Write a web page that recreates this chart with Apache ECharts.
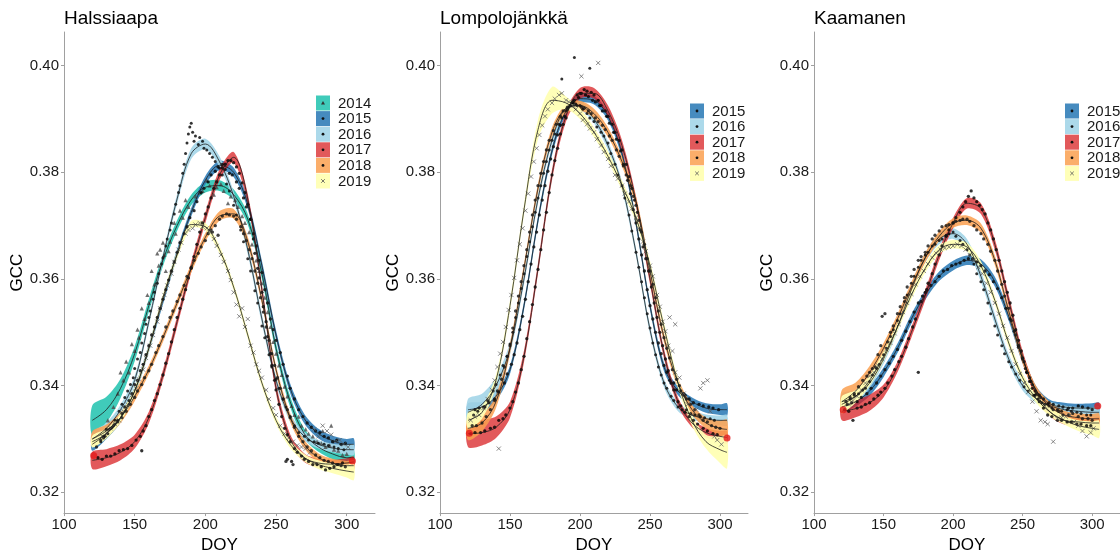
<!DOCTYPE html>
<html>
<head>
<meta charset="utf-8">
<script src="https://cdn.jsdelivr.net/npm/echarts@6/dist/echarts.min.js"></script>
<style>
html,body{margin:0;padding:0;background:#fff;}
#chart{width:1120px;height:559px;}
</style>
</head>
<body>
<div id="chart"></div>
<script>
// ---------------- DATA ----------------
const doyGrid = [120,130,140,150,160,170,180,190,200,210,220,230,240,250,260,270,280,290,300,305];
const xTicks = [100,150,200,250,300];
const yTicks = [0.32,0.34,0.36,0.38,0.40];
const siteNames = ['Halssiaapa','Lompolojänkkä','Kaamanen'];
const yearsH = ['2014','2015','2016','2017','2018','2019'];
const yearsL = ['2015','2016','2017','2018','2019'];
const yearsK = ['2015','2016','2017','2018','2019'];

// Halssiaapa fitted curves (GCC at doyGrid)
const H14c = [0.3335,0.3355,0.3395,0.3460,0.3550,0.3635,0.3700,0.3748,0.3772,0.3775,0.3758,0.3712,0.3610,0.3470,0.3370,0.3310,0.3285,0.3272,0.3265,0.3265];
const H15c = [0.3290,0.3310,0.3340,0.3390,0.3470,0.3560,0.3648,0.3725,0.3785,0.3813,0.3800,0.3740,0.3625,0.3495,0.3395,0.3338,0.3310,0.3297,0.3290,0.3290];
const H16c = [0.3300,0.3320,0.3355,0.3410,0.3520,0.3640,0.3750,0.3835,0.3853,0.3820,0.3755,0.3655,0.3525,0.3410,0.3340,0.3305,0.3290,0.3283,0.3280,0.3280];
const H17c = [0.3260,0.3265,0.3275,0.3295,0.3340,0.3420,0.3520,0.3622,0.3715,0.3795,0.3828,0.3750,0.3580,0.3395,0.3300,0.3265,0.3255,0.3253,0.3255,0.3257];
const H18c = [0.3300,0.3315,0.3340,0.3380,0.3430,0.3490,0.3555,0.3620,0.3678,0.3718,0.3722,0.3670,0.3560,0.3430,0.3340,0.3290,0.3265,0.3255,0.3250,0.3250];
const H19c = [0.3295,0.3310,0.3340,0.3390,0.3470,0.3565,0.3645,0.3702,0.3698,0.3655,0.3585,0.3495,0.3405,0.3335,0.3290,0.3265,0.3252,0.3245,0.3240,0.3238];
// Halssiaapa band half widths
const H14w = [0.0028,0.0024,0.0018,0.0014,0.0012,0.0011,0.0010,0.0010,0.0010,0.0010,0.0010,0.0010,0.0010,0.0010,0.0010,0.0009,0.0009,0.0010,0.0012,0.0014];
const H15w = [0.0012,0.0010,0.0009,0.0008,0.0008,0.0008,0.0008,0.0008,0.0008,0.0009,0.0009,0.0009,0.0009,0.0009,0.0009,0.0009,0.0009,0.0009,0.0010,0.0011];
const H16w = [0.0012,0.0010,0.0009,0.0008,0.0008,0.0008,0.0009,0.0010,0.0010,0.0010,0.0009,0.0009,0.0009,0.0008,0.0008,0.0008,0.0008,0.0008,0.0009,0.0010];
const H17w = [0.0016,0.0016,0.0015,0.0013,0.0011,0.0010,0.0010,0.0010,0.0010,0.0010,0.0010,0.0010,0.0010,0.0010,0.0009,0.0008,0.0008,0.0008,0.0009,0.0010];
const H18w = [0.0014,0.0012,0.0010,0.0009,0.0008,0.0008,0.0008,0.0008,0.0008,0.0009,0.0009,0.0009,0.0008,0.0008,0.0008,0.0008,0.0008,0.0008,0.0009,0.0010];
const H19w = [0.0011,0.0009,0.0008,0.0007,0.0007,0.0007,0.0007,0.0007,0.0007,0.0007,0.0007,0.0007,0.0007,0.0007,0.0007,0.0007,0.0008,0.0009,0.0012,0.0015];
// Halssiaapa observations
const H14p = [[131,0.3335],[135,0.336],[138,0.3385],[142,0.341],[146,0.3425],[150,0.3465],[153,0.349],[157,0.3525],[160,0.3555],[164,0.359],[167,0.3625],[171,0.3645],[175,0.367],[179,0.3685],[184,0.3715],[188,0.3735],[193,0.3755],[198,0.3765],[203,0.3775],[208,0.3772],[213,0.3765],[218,0.3755],[223,0.3735],[228,0.3705],[233,0.3665],[238,0.3615],[242,0.3565],[246,0.351],[250,0.346],[254,0.342],[258,0.338],[263,0.3345],[268,0.3325],[273,0.331],[279,0.3295],[285,0.3285],[291,0.328],[297,0.327],[168,0.3655],[172,0.3615],[283,0.3315],[289,0.3325]];
const H14q = [[140,0.3425],[144,0.3445],[148,0.3478],[152,0.3505],[155,0.3545],[159,0.357],[162,0.3615],[166,0.3648],[170,0.3668],[174,0.3652],[178,0.3705],[182,0.3728],[186,0.3748],[196,0.3762],[201,0.3785],[206,0.3758],[211,0.3778],[216,0.3742],[221,0.3748],[226,0.3718],[231,0.3688],[236,0.3635],[240,0.3592],[244,0.3538],[248,0.3482],[252,0.3438],[256,0.3398],[261,0.3362],[266,0.3342],[271,0.3318],[276,0.3305],[282,0.3292],[288,0.3288],[294,0.3278],[300,0.3272]];
const H15p = [[128,0.3305],[133,0.332],[138,0.3335],[143,0.336],[148,0.3385],[152,0.341],[156,0.344],[160,0.3475],[164,0.351],[168,0.3545],[172,0.358],[176,0.3615],[180,0.365],[185,0.3685],[189,0.3715],[194,0.3745],[199,0.377],[204,0.3795],[209,0.381],[214,0.3805],[219,0.3795],[224,0.377],[229,0.3735],[234,0.3685],[238,0.3635],[242,0.358],[246,0.3525],[250,0.3485],[255,0.344],[260,0.3395],[266,0.3355],[272,0.333],[278,0.3315],[284,0.3305],[290,0.3295],[296,0.329]];
const H15q = [[130,0.3318],[136,0.3328],[141,0.3348],[146,0.3372],[150,0.3402],[154,0.3428],[158,0.3458],[162,0.3495],[166,0.3528],[170,0.3562],[174,0.3598],[178,0.3632],[182,0.3668],[187,0.3698],[192,0.3728],[197,0.3762],[202,0.3782],[207,0.3802],[212,0.3815],[217,0.3798],[222,0.3782],[227,0.3752],[232,0.3712],[236,0.3662],[240,0.3612],[244,0.3555],[248,0.3505],[253,0.3462],[258,0.3418],[263,0.3375],[269,0.3342],[275,0.3322],[281,0.3312],[287,0.3302],[293,0.3298],[299,0.3292]];
const H16p = [[126,0.3295],[131,0.331],[136,0.3335],[141,0.3365],[145,0.339],[149,0.3415],[152,0.345],[155,0.348],[158,0.3515],[161,0.354],[164,0.3575],[167,0.361],[170,0.364],[173,0.3675],[176,0.3705],[179,0.374],[182,0.3775],[185,0.3815],[187,0.3855],[189,0.3885],[191,0.3875],[193,0.3868],[196,0.3865],[199,0.3845],[203,0.3835],[207,0.382],[212,0.3795],[217,0.3765],[222,0.372],[227,0.367],[232,0.3615],[237,0.3555],[242,0.349],[247,0.3435],[252,0.3395],[257,0.336],[263,0.3325],[270,0.3305],[277,0.3295],[284,0.329],[291,0.3285],[298,0.328]];
const H16q = [[128,0.3302],[134,0.3322],[139,0.3352],[143,0.3378],[147,0.3402],[150,0.3432],[154,0.3462],[157,0.3498],[160,0.3528],[163,0.3562],[166,0.3592],[169,0.3628],[172,0.3662],[175,0.3692],[178,0.3722],[181,0.3762],[184,0.3798],[186,0.3835],[188,0.3872],[190,0.3892],[192,0.3858],[195,0.3852],[198,0.3858],[201,0.3842],[205,0.3828],[210,0.3808],[215,0.3778],[220,0.3738],[225,0.3692],[230,0.3638],[235,0.3578],[240,0.3512],[245,0.3458],[250,0.3412],[255,0.3375],[260,0.3342],[266,0.3312],[273,0.3298],[280,0.3292],[287,0.3288],[294,0.3282]];
const H17p = [[124,0.3265],[130,0.3268],[136,0.3272],[142,0.328],[148,0.3288],[154,0.3305],[158,0.3325],[162,0.3355],[166,0.3385],[170,0.342],[174,0.346],[178,0.3505],[182,0.3545],[186,0.358],[190,0.362],[194,0.3665],[198,0.3705],[202,0.3735],[206,0.377],[210,0.3795],[214,0.3815],[218,0.3822],[222,0.381],[226,0.378],[230,0.374],[234,0.3675],[237,0.362],[240,0.3575],[243,0.352],[246,0.346],[249,0.341],[252,0.3365],[256,0.332],[260,0.3295],[265,0.3275],[270,0.3262],[276,0.3252],[282,0.3248],[288,0.3245],[294,0.3252],[258,0.3262],[261,0.3258],[155,0.3278]];
const H17q = [[127,0.3262],[133,0.3268],[139,0.3278],[145,0.3282],[151,0.3298],[156,0.3315],[160,0.3342],[164,0.3372],[168,0.3402],[172,0.3442],[176,0.3482],[180,0.3528],[184,0.3562],[188,0.3602],[192,0.3642],[196,0.3688],[200,0.3722],[204,0.3752],[208,0.3782],[212,0.3808],[216,0.3822],[220,0.3818],[224,0.3798],[228,0.3762],[232,0.3712],[235,0.3648],[238,0.3602],[241,0.3548],[244,0.3492],[247,0.3438],[250,0.3392],[254,0.3342],[258,0.3308],[263,0.3282],[268,0.3268],[273,0.3258],[279,0.3252],[285,0.3242],[291,0.3248],[297,0.3255]];
const H18p = [[123,0.3285],[129,0.3305],[135,0.3325],[141,0.334],[147,0.3365],[152,0.339],[157,0.3415],[162,0.344],[167,0.3475],[172,0.351],[177,0.354],[182,0.357],[187,0.3605],[192,0.3635],[197,0.366],[202,0.3685],[207,0.37],[212,0.3718],[217,0.372],[222,0.3712],[227,0.3685],[231,0.3655],[235,0.3615],[239,0.3565],[243,0.351],[247,0.346],[251,0.3415],[255,0.3375],[260,0.334],[266,0.3305],[272,0.3285],[278,0.327],[284,0.326],[290,0.3255],[296,0.325],[257,0.3258],[262,0.3252],[205,0.3688],[209,0.3682]];
const H18q = [[126,0.3298],[132,0.3318],[138,0.3332],[144,0.3352],[150,0.3378],[155,0.3402],[160,0.3428],[165,0.3462],[170,0.3492],[175,0.3528],[180,0.3558],[185,0.3588],[190,0.3622],[195,0.3648],[200,0.3672],[204,0.3692],[210,0.3712],[215,0.3722],[220,0.3718],[225,0.3698],[229,0.3672],[233,0.3638],[237,0.3592],[241,0.3538],[245,0.3485],[249,0.3438],[253,0.3395],[258,0.3355],[263,0.3322],[269,0.3295],[275,0.3278],[281,0.3265],[287,0.3258],[293,0.3252],[299,0.3248]];
const H19p = [[127,0.3305],[133,0.332],[139,0.3335],[145,0.3365],[151,0.3395],[156,0.343],[161,0.3475],[166,0.352],[171,0.357],[176,0.361],[181,0.3655],[186,0.3685],[191,0.3695],[196,0.3705],[201,0.3695],[206,0.3675],[211,0.3645],[216,0.3615],[220,0.3575],[224,0.353],[228,0.351],[232,0.3475],[236,0.344],[240,0.3415],[245,0.3375],[250,0.3345],[256,0.331],[262,0.3295],[268,0.3285],[274,0.3275],[280,0.3305],[286,0.3315],[292,0.3295],[298,0.329],[226,0.3545],[230,0.3525]];
const H19q = [[130,0.3312],[136,0.3328],[142,0.3352],[148,0.3382],[153,0.3412],[158,0.3452],[163,0.3495],[168,0.3545],[173,0.3588],[178,0.3632],[183,0.3668],[188,0.3692],[193,0.3702],[198,0.3698],[203,0.3688],[208,0.3662],[213,0.3632],[218,0.3598],[222,0.3552],[234,0.3462],[238,0.3428],[243,0.3392],[248,0.3358],[253,0.3325],[259,0.3302],[265,0.3288],[271,0.3282],[277,0.3318],[283,0.3325],[289,0.3308],[295,0.3298],[301,0.3285]];
const HendPts = [[121,0.3269],[304,0.3259]];

// Lompolojänkkä
const L15c = [0.3355,0.3360,0.3380,0.3430,0.3550,0.3710,0.3840,0.3915,0.3938,0.3935,0.3905,0.3835,0.3705,0.3550,0.3435,0.3390,0.3370,0.3358,0.3355,0.3355];
const L16c = [0.3350,0.3365,0.3400,0.3470,0.3600,0.3750,0.3860,0.3920,0.3925,0.3900,0.3850,0.3775,0.3650,0.3505,0.3405,0.3360,0.3345,0.3338,0.3335,0.3335];
const L17c = [0.3310,0.3312,0.3322,0.3355,0.3455,0.3620,0.3795,0.3905,0.3948,0.3948,0.3915,0.3850,0.3745,0.3600,0.3460,0.3370,0.3330,0.3312,0.3305,0.3303];
const L18c = [0.3320,0.3330,0.3370,0.3470,0.3620,0.3770,0.3875,0.3920,0.3925,0.3910,0.3875,0.3820,0.3745,0.3615,0.3490,0.3405,0.3355,0.3330,0.3320,0.3318];
const L19c = [0.3335,0.3350,0.3410,0.3550,0.3730,0.3880,0.3935,0.3930,0.3910,0.3875,0.3830,0.3775,0.3715,0.3625,0.3510,0.3405,0.3335,0.3295,0.3280,0.3275];
const L15w = [0.0012,0.0010,0.0009,0.0008,0.0008,0.0008,0.0008,0.0008,0.0008,0.0008,0.0008,0.0008,0.0008,0.0008,0.0008,0.0008,0.0008,0.0009,0.0010,0.0012];
const L16w = [0.0025,0.0020,0.0016,0.0012,0.0010,0.0009,0.0008,0.0008,0.0008,0.0008,0.0008,0.0008,0.0008,0.0008,0.0008,0.0008,0.0008,0.0008,0.0009,0.0010];
const L17w = [0.0025,0.0024,0.0020,0.0015,0.0011,0.0010,0.0010,0.0010,0.0010,0.0010,0.0010,0.0010,0.0010,0.0010,0.0009,0.0008,0.0008,0.0009,0.0010,0.0012];
const L18w = [0.0022,0.0016,0.0012,0.0010,0.0009,0.0009,0.0009,0.0009,0.0009,0.0009,0.0009,0.0009,0.0009,0.0009,0.0009,0.0009,0.0009,0.0010,0.0014,0.0018];
const L19w = [0.0015,0.0012,0.0010,0.0010,0.0010,0.0018,0.0025,0.0012,0.0010,0.0009,0.0009,0.0009,0.0009,0.0009,0.0009,0.0009,0.0010,0.0013,0.0025,0.0030];
const L15p = [[125,0.3355],[132,0.336],[139,0.3375],[146,0.3405],[151,0.344],[155,0.348],[159,0.353],[163,0.3595],[167,0.366],[171,0.372],[175,0.3775],[179,0.3825],[184,0.387],[189,0.3905],[194,0.393],[199,0.394],[204,0.3945],[209,0.3935],[214,0.3925],[219,0.3905],[224,0.3875],[229,0.384],[234,0.3785],[238,0.373],[242,0.3675],[246,0.3615],[250,0.355],[254,0.350],[258,0.346],[262,0.3425],[267,0.3405],[272,0.339],[278,0.3375],[285,0.3365],[292,0.336],[299,0.3355]];
const L15q = [[128,0.3358],[135,0.3368],[142,0.3388],[148,0.3422],[153,0.3458],[157,0.3505],[161,0.3562],[165,0.3628],[169,0.3688],[173,0.3748],[177,0.3802],[181,0.3848],[186,0.3888],[191,0.3918],[196,0.3935],[201,0.3948],[206,0.3942],[211,0.3932],[216,0.3915],[221,0.3892],[226,0.3862],[231,0.3815],[236,0.376],[240,0.3705],[244,0.3645],[248,0.358],[252,0.3525],[256,0.348],[260,0.3438],[264,0.341],[269,0.3392],[275,0.3382],[281,0.3368],[288,0.3362],[295,0.3358]];
const L16p = [[124,0.3345],[131,0.336],[138,0.339],[143,0.342],[148,0.3455],[152,0.35],[156,0.3555],[160,0.361],[164,0.367],[168,0.3725],[172,0.3775],[176,0.382],[180,0.386],[185,0.389],[190,0.3915],[195,0.393],[200,0.3925],[205,0.391],[210,0.3895],[215,0.3875],[220,0.3855],[225,0.3815],[230,0.3775],[235,0.372],[240,0.365],[244,0.3595],[248,0.3535],[252,0.348],[256,0.3435],[260,0.3405],[265,0.338],[270,0.336],[276,0.3355],[282,0.3345],[289,0.334],[296,0.3335],[196,0.4015],[207,0.3995],[187,0.3975]];
const L16q = [[127,0.3352],[134,0.3372],[140,0.3402],[145,0.3438],[150,0.3478],[154,0.3528],[158,0.3582],[162,0.3642],[166,0.3698],[170,0.3752],[174,0.3798],[178,0.3842],[182,0.3872],[187,0.3902],[192,0.3922],[197,0.3928],[202,0.3918],[207,0.3902],[212,0.3885],[217,0.3868],[222,0.3835],[227,0.3795],[232,0.3752],[237,0.369],[242,0.3622],[246,0.3565],[250,0.3508],[254,0.3458],[258,0.342],[262,0.3395],[267,0.3372],[273,0.3355],[279,0.3348],[286,0.3342],[293,0.3338]];
const L17p = [[122,0.331],[129,0.3312],[136,0.332],[142,0.3335],[147,0.3345],[152,0.337],[156,0.3405],[160,0.3455],[164,0.352],[168,0.3585],[172,0.3655],[176,0.3725],[180,0.3795],[184,0.3845],[188,0.389],[193,0.3925],[198,0.3945],[203,0.3955],[208,0.395],[213,0.3935],[218,0.3915],[223,0.389],[228,0.386],[233,0.3815],[237,0.377],[241,0.3725],[245,0.366],[249,0.3615],[253,0.3555],[257,0.35],[261,0.345],[265,0.3405],[270,0.337],[275,0.335],[281,0.3335],[288,0.332],[295,0.331]];
const L17q = [[125,0.3312],[132,0.3315],[139,0.3322],[145,0.3338],[150,0.3358],[154,0.3388],[158,0.343],[162,0.3488],[166,0.3552],[170,0.3618],[174,0.3692],[178,0.3762],[182,0.3822],[186,0.3872],[190,0.3902],[195,0.3932],[200,0.3948],[205,0.3952],[210,0.3945],[215,0.3925],[220,0.3905],[225,0.3875],[230,0.3842],[235,0.3792],[239,0.3748],[243,0.3692],[247,0.3638],[251,0.3585],[255,0.3528],[259,0.3475],[263,0.3428],[267,0.3392],[272,0.3362],[278,0.3342],[284,0.3328],[291,0.3315],[298,0.3308]];
const L18p = [[123,0.3325],[130,0.333],[136,0.3355],[141,0.339],[146,0.3435],[150,0.3475],[154,0.354],[158,0.3595],[162,0.3655],[166,0.372],[170,0.3775],[174,0.382],[178,0.386],[183,0.389],[188,0.3915],[193,0.3925],[198,0.3925],[203,0.392],[208,0.391],[213,0.3895],[218,0.388],[223,0.386],[228,0.383],[233,0.3795],[238,0.3755],[242,0.371],[246,0.3665],[250,0.3615],[254,0.3565],[258,0.3515],[262,0.347],[266,0.343],[271,0.34],[276,0.3375],[282,0.3355],[288,0.3335],[294,0.3325],[300,0.332]];
const L18q = [[126,0.3325],[133,0.3342],[139,0.3372],[144,0.3412],[148,0.3455],[152,0.3508],[156,0.3568],[160,0.3625],[164,0.3688],[168,0.3748],[172,0.3798],[176,0.3842],[181,0.3878],[186,0.3905],[191,0.3922],[196,0.3928],[201,0.3922],[206,0.3915],[211,0.3902],[216,0.3888],[221,0.3868],[226,0.3842],[231,0.3812],[236,0.3775],[240,0.3738],[244,0.3688],[248,0.3638],[252,0.359],[256,0.354],[260,0.349],[264,0.3452],[269,0.3412],[274,0.3385],[279,0.3365],[285,0.3345],[291,0.3332],[297,0.3322]];
const L19p = [[122,0.3335],[128,0.3345],[134,0.3375],[139,0.341],[143,0.346],[147,0.351],[151,0.357],[155,0.3635],[159,0.3695],[163,0.376],[167,0.382],[171,0.387],[175,0.3905],[180,0.393],[185,0.3945],[190,0.3935],[195,0.3925],[200,0.391],[205,0.389],[210,0.3875],[215,0.385],[220,0.3825],[225,0.3795],[230,0.3775],[235,0.3745],[240,0.3715],[245,0.367],[250,0.3625],[255,0.357],[259,0.352],[263,0.3475],[268,0.3425],[274,0.3385],[280,0.3345],[286,0.3395],[291,0.341],[296,0.3305],[301,0.329],[213,0.4005],[201,0.398],[142,0.3282],[264,0.3528],[268,0.3515]];
const L19q = [[125,0.3342],[131,0.3358],[137,0.3392],[141,0.3435],[145,0.3482],[149,0.3542],[153,0.3602],[157,0.3665],[161,0.3728],[165,0.3792],[169,0.3845],[173,0.3888],[177,0.3918],[182,0.3938],[187,0.3948],[192,0.3932],[197,0.3918],[202,0.3898],[207,0.3882],[212,0.3862],[217,0.3838],[222,0.3812],[227,0.3788],[232,0.376],[237,0.3732],[242,0.3695],[247,0.3652],[252,0.3605],[257,0.3548],[261,0.3502],[266,0.3465],[271,0.3415],[277,0.3365],[283,0.3355],[288,0.3405],[293,0.3352],[298,0.3298]];
const LendPts = [[121,0.3311],[305,0.3302]];

// Kaamanen
const K15c = [0.3360,0.3370,0.3390,0.3425,0.3470,0.3525,0.3570,0.3605,0.3625,0.3635,0.3628,0.3595,0.3530,0.3450,0.3390,0.3365,0.3360,0.3358,0.3358,0.3358];
const K16c = [0.3370,0.3380,0.3405,0.3450,0.3510,0.3580,0.3640,0.3675,0.3685,0.3665,0.3605,0.3525,0.3450,0.3400,0.3375,0.3362,0.3355,0.3352,0.3350,0.3350];
const K17c = [0.3352,0.3357,0.3368,0.3390,0.3435,0.3500,0.3570,0.3645,0.3705,0.3742,0.3732,0.3665,0.3560,0.3455,0.3385,0.3350,0.3335,0.3332,0.3330,0.3330];
const K18c = [0.3370,0.3390,0.3425,0.3470,0.3525,0.3585,0.3640,0.3680,0.3705,0.3710,0.3695,0.3635,0.3540,0.3450,0.3390,0.3360,0.3345,0.3340,0.3338,0.3338];
const K19c = [0.3365,0.3380,0.3410,0.3455,0.3510,0.3570,0.3620,0.3655,0.3665,0.3660,0.3625,0.3560,0.3480,0.3415,0.3375,0.3350,0.3335,0.3325,0.3320,0.3318];
const K15w = [0.0010,0.0009,0.0009,0.0009,0.0009,0.0009,0.0009,0.0009,0.0009,0.0009,0.0009,0.0009,0.0009,0.0009,0.0008,0.0008,0.0008,0.0008,0.0009,0.0010];
const K16w = [0.0015,0.0012,0.0010,0.0009,0.0009,0.0009,0.0009,0.0010,0.0010,0.0010,0.0010,0.0010,0.0009,0.0009,0.0008,0.0008,0.0008,0.0008,0.0009,0.0010];
const K17w = [0.0017,0.0016,0.0015,0.0012,0.0010,0.0010,0.0010,0.0010,0.0010,0.0010,0.0010,0.0010,0.0010,0.0010,0.0009,0.0008,0.0008,0.0008,0.0009,0.0010];
const K18w = [0.0022,0.0016,0.0012,0.0010,0.0009,0.0009,0.0009,0.0009,0.0009,0.0009,0.0009,0.0009,0.0009,0.0009,0.0008,0.0008,0.0008,0.0008,0.0009,0.0010];
const K19w = [0.0015,0.0012,0.0010,0.0009,0.0008,0.0008,0.0008,0.0008,0.0008,0.0008,0.0008,0.0008,0.0008,0.0008,0.0008,0.0008,0.0008,0.0010,0.0013,0.0016];
const K15p = [[124,0.3365],[131,0.337],[138,0.3385],[145,0.3405],[151,0.343],[157,0.3455],[163,0.3485],[169,0.352],[175,0.3555],[181,0.358],[187,0.3595],[193,0.3615],[199,0.3625],[205,0.363],[211,0.3638],[217,0.3632],[223,0.3615],[229,0.3595],[235,0.3565],[241,0.3525],[247,0.3475],[253,0.3425],[259,0.339],[265,0.3375],[272,0.3365],[279,0.336],[286,0.3358],[293,0.336],[300,0.3355]];
const K15q = [[127,0.3368],[134,0.3378],[141,0.3395],[148,0.3418],[154,0.3442],[160,0.3468],[166,0.3502],[172,0.3538],[178,0.3568],[184,0.3588],[190,0.3605],[196,0.3618],[202,0.3628],[208,0.3635],[214,0.3638],[220,0.3625],[226,0.3608],[232,0.3582],[238,0.3545],[244,0.3502],[250,0.3452],[256,0.3408],[262,0.3382],[269,0.3368],[276,0.3362],[283,0.3358],[290,0.3362],[297,0.3358]];
const K16p = [[126,0.3375],[132,0.3385],[137,0.3395],[142,0.342],[147,0.344],[152,0.347],[157,0.3505],[162,0.3535],[167,0.357],[172,0.3605],[177,0.3635],[182,0.365],[187,0.3665],[192,0.3675],[197,0.3685],[202,0.368],[207,0.3665],[212,0.3645],[217,0.361],[222,0.358],[227,0.3535],[232,0.3495],[237,0.346],[242,0.3435],[248,0.341],[254,0.339],[261,0.3375],[268,0.3365],[275,0.3355],[282,0.3355],[289,0.335],[296,0.3345]];
const K16q = [[129,0.3382],[135,0.3392],[140,0.3408],[145,0.3432],[150,0.3458],[155,0.3492],[160,0.3522],[165,0.3558],[170,0.3592],[175,0.3622],[180,0.3645],[185,0.3662],[190,0.3672],[195,0.3682],[200,0.3688],[205,0.3672],[210,0.3655],[215,0.3628],[220,0.3595],[225,0.3555],[230,0.3512],[235,0.3475],[240,0.3445],[245,0.3422],[251,0.3398],[258,0.3382],[264,0.3368],[271,0.3358],[278,0.3352],[285,0.3352],[292,0.3348],[299,0.3345]];
const K17p = [[122,0.3355],[128,0.3335],[134,0.336],[140,0.3368],[146,0.3382],[151,0.3395],[156,0.3418],[161,0.3445],[166,0.3472],[171,0.351],[175,0.3425],[180,0.3575],[185,0.361],[190,0.3645],[195,0.368],[200,0.3705],[205,0.3725],[209,0.3745],[213,0.3765],[217,0.3745],[221,0.373],[225,0.3705],[229,0.3675],[233,0.3635],[237,0.3595],[241,0.3555],[245,0.3505],[249,0.3465],[253,0.3425],[257,0.3395],[262,0.337],[268,0.3345],[275,0.3335],[282,0.3332],[289,0.3328],[296,0.3325]];
const K17q = [[125,0.3352],[131,0.3358],[137,0.3365],[143,0.3375],[148,0.3388],[153,0.3405],[158,0.343],[163,0.3455],[168,0.3488],[173,0.3525],[177,0.3558],[182,0.3592],[187,0.3628],[192,0.3662],[197,0.3692],[202,0.3715],[207,0.3735],[211,0.3755],[215,0.3752],[219,0.3738],[223,0.3722],[227,0.3692],[231,0.3655],[235,0.3615],[239,0.3575],[243,0.3532],[247,0.3485],[251,0.3445],[255,0.3408],[259,0.3382],[265,0.3358],[271,0.3342],[278,0.3335],[285,0.3332],[292,0.3328],[299,0.3325]];
const K18p = [[123,0.337],[129,0.3385],[135,0.341],[140,0.3425],[144,0.3435],[148,0.3475],[149,0.353],[151,0.3535],[155,0.35],[160,0.3535],[165,0.3565],[170,0.3605],[175,0.3635],[180,0.365],[185,0.3675],[190,0.369],[195,0.37],[200,0.3705],[205,0.371],[210,0.3712],[215,0.37],[220,0.3685],[225,0.3665],[230,0.3635],[235,0.359],[240,0.3545],[245,0.3495],[250,0.345],[255,0.3415],[260,0.3385],[266,0.3365],[272,0.3355],[279,0.3345],[286,0.3348],[293,0.3338],[300,0.3335]];
const K18q = [[126,0.3378],[132,0.3398],[138,0.3418],[142,0.3432],[146,0.3458],[153,0.3482],[157,0.3512],[162,0.3548],[167,0.3585],[172,0.3618],[177,0.3642],[182,0.3662],[187,0.3682],[192,0.3698],[197,0.3702],[202,0.3708],[207,0.3712],[212,0.3708],[217,0.3692],[222,0.3675],[227,0.3652],[232,0.3615],[237,0.3568],[242,0.3522],[247,0.3472],[252,0.3432],[257,0.3402],[263,0.3378],[269,0.3362],[276,0.3352],[283,0.3345],[290,0.3342],[297,0.3338]];
const K19p = [[125,0.3365],[131,0.338],[137,0.3405],[143,0.3425],[149,0.345],[155,0.348],[161,0.3515],[167,0.3555],[173,0.359],[179,0.3615],[185,0.364],[191,0.3655],[197,0.366],[203,0.3665],[209,0.3655],[215,0.3635],[221,0.361],[227,0.3575],[233,0.3535],[239,0.349],[245,0.344],[251,0.3405],[257,0.337],[263,0.3335],[268,0.3328],[272,0.3295],[278,0.334],[284,0.3345],[290,0.3325],[296,0.3305],[301,0.332]];
const K19q = [[128,0.3372],[134,0.3392],[140,0.3418],[146,0.3438],[152,0.3468],[158,0.3498],[164,0.3538],[170,0.3572],[176,0.3605],[182,0.3628],[188,0.3648],[194,0.3658],[200,0.3662],[206,0.3662],[212,0.3645],[218,0.3622],[224,0.3592],[230,0.3555],[236,0.3512],[242,0.3465],[248,0.3422],[254,0.3388],[260,0.3352],[266,0.3332],[275,0.3338],[281,0.3342],[287,0.3332],[293,0.3315],[299,0.3312]];
const KendPts = [[121,0.3355],[304,0.3362]];

// ---------------- STYLE ----------------
const FONT = '"Liberation Sans", Arial, Helvetica, sans-serif';
const bandColor = {
  '2014':'rgba(38,196,176,0.88)',
  '2015':'rgba(44,123,182,0.88)',
  '2016':'rgba(165,214,232,0.92)',
  '2017':'rgba(215,25,28,0.72)',
  '2018':'rgba(250,160,80,0.85)',
  '2019':'rgba(255,255,180,0.95)'
};
const ptStyle = {
  '2014':{symbol:'triangle', size:4.2, color:'#4a4a4a'},
  '2015':{symbol:'circle', size:3.3, color:'#000'},
  '2016':{symbol:'circle', size:3, color:'#000'},
  '2017':{symbol:'circle', size:3.3, color:'#000'},
  '2018':{symbol:'circle', size:3.3, color:'#111'},
  '2019':{symbol:'path://M0,0L10,10M10,0L0,10', size:4.2, color:'#5a5a5a', cross:true}
};

const panels = [
  {years:yearsH, curves:[H14c,H15c,H16c,H17c,H18c,H19c], widths:[H14w,H15w,H16w,H17w,H18w,H19w],
   pts:[H14p.concat(H14q),H15p.concat(H15q),H16p.concat(H16q),H17p.concat(H17q),H18p.concat(H18q),H19p.concat(H19q)], ends:HendPts,
   grid:{left:64, top:32, width:311, height:487}, legX:316, legTop:95.5},
  {years:yearsL, curves:[L15c,L16c,L17c,L18c,L19c], widths:[L15w,L16w,L17w,L18w,L19w],
   pts:[L15p.concat(L15q),L16p.concat(L16q),L17p.concat(L17q),L18p.concat(L18q),L19p.concat(L19q)], ends:LendPts,
   grid:{left:440, top:32, width:308, height:487}, legX:690, legTop:103.5},
  {years:yearsK, curves:[K15c,K16c,K17c,K18c,K19c], widths:[K15w,K16w,K17w,K18w,K19w],
   pts:[K15p.concat(K15q),K16p.concat(K16q),K17p.concat(K17q),K18p.concat(K18q),K19p.concat(K19q)], ends:KendPts,
   grid:{left:814, top:32, width:309, height:487}, legX:1065, legTop:103.5}
];

const axisColor = '#a0a0a0';
const grids=[], xAxes=[], yAxes=[], series=[], titles=[], graphics=[];

panels.forEach((p, gi) => {
  grids.push(Object.assign({containLabel:false}, p.grid));
  titles.push({text:siteNames[gi], left:p.grid.left, top:9, padding:0,
    textStyle:{fontFamily:FONT, fontSize:19, fontWeight:'normal', color:'#000'}});
  xAxes.push({type:'value', gridIndex:gi, min:100, max:320,
    name:'DOY', nameLocation:'middle', nameGap:21,
    nameTextStyle:{fontFamily:FONT, fontSize:17, color:'#000'},
    axisLine:{show:true, onZero:false, lineStyle:{color:axisColor, width:1}},
    axisTick:{show:true, length:3, lineStyle:{color:axisColor}, customValues:xTicks},
    axisLabel:{customValues:xTicks, fontFamily:FONT, fontSize:15, color:'#1a1a1a', margin:4},
    splitLine:{show:false}});
  yAxes.push({type:'value', gridIndex:gi, min:0.31611, max:0.40630,
    name:'GCC', nameLocation:'middle', nameGap:37,
    nameTextStyle:{fontFamily:FONT, fontSize:17, color:'#000'},
    axisLine:{show:true, onZero:false, lineStyle:{color:axisColor, width:1}},
    axisTick:{show:true, length:3, lineStyle:{color:axisColor}, customValues:yTicks},
    axisLabel:{customValues:yTicks, fontFamily:FONT, fontSize:15, color:'#1a1a1a', margin:5,
      formatter:v=>Number(v).toFixed(2)},
    splitLine:{show:false}});

  // bands
  p.years.forEach((yr, k) => {
    const mid = p.curves[k], hw = p.widths[k];
    series.push({type:'custom', xAxisIndex:gi, yAxisIndex:gi, silent:true, z:1, clip:true,
      data:[[doyGrid[0], mid[0]]],
      renderItem:function(params, api){
        const up=[], lo=[];
        for(let i=0;i<doyGrid.length;i++){
          up.push(api.coord([doyGrid[i], mid[i]+hw[i]]));
          lo.push(api.coord([doyGrid[i], mid[i]-hw[i]]));
        }
        return {type:'polygon', shape:{points:up.concat(lo.reverse()), smooth:0.3},
          style:{fill:bandColor[yr]}};
      }});
  });
  // points
  p.years.forEach((yr, k) => {
    const s = ptStyle[yr];
    series.push({type:'scatter', xAxisIndex:gi, yAxisIndex:gi, silent:true, z:3,
      symbol:s.symbol, symbolSize:s.size,
      itemStyle: s.cross ? {color:'rgba(0,0,0,0)', borderColor:s.color, borderWidth:0.9} : {color:s.color},
      data:p.pts[k]});
  });
  // fitted curves
  p.years.forEach((yr, k) => {
    series.push({type:'line', xAxisIndex:gi, yAxisIndex:gi, silent:true, z:4,
      smooth:0.35, showSymbol:false, symbol:'none',
      lineStyle:{color:'#1c1c1c', width:0.8},
      data:doyGrid.map((d,i)=>[d, p.curves[k][i]])});
  });
  // end points
  series.push({type:'scatter', xAxisIndex:gi, yAxisIndex:gi, silent:true, z:5,
    symbol:'circle', symbolSize:7, itemStyle:{color:'#e3191c'}, data:p.ends});

  // legend keys
  const pitch = 15.6;
  p.years.forEach((yr, k) => {
    const top = p.legTop + k*pitch;
    graphics.push({type:'rect', left:p.legX, top:top, shape:{width:14, height:15}, style:{fill:bandColor[yr]}, z:10});
    const cx = p.legX+7, cy = top+7.5;
    if (yr==='2014') {
      graphics.push({type:'polygon', shape:{points:[[cx,cy-2],[cx-2,cy+1.6],[cx+2,cy+1.6]]}, style:{fill:'#333'}, z:11});
    } else if (yr==='2019') {
      graphics.push({type:'polyline', shape:{points:[[cx-1.8,cy-1.8],[cx+1.8,cy+1.8]]}, style:{stroke:'#555', lineWidth:0.8}, z:11});
      graphics.push({type:'polyline', shape:{points:[[cx+1.8,cy-1.8],[cx-1.8,cy+1.8]]}, style:{stroke:'#555', lineWidth:0.8}, z:11});
    } else {
      graphics.push({type:'circle', shape:{cx:cx, cy:cy, r:1.4}, style:{fill:'#111'}, z:11});
    }
    graphics.push({type:'text', left:p.legX+22, top:top+0.5,
      style:{text:yr, fontFamily:FONT, fontSize:15, fill:'#1a1a1a'}, z:11});
  });
});

const chart = echarts.init(document.getElementById('chart'), null, {renderer:'canvas'});
chart.setOption({
  animation:false,
  backgroundColor:'#fff',
  title:titles,
  grid:grids,
  xAxis:xAxes,
  yAxis:yAxes,
  series:series,
  graphic:graphics
});
</script>
</body>
</html>
